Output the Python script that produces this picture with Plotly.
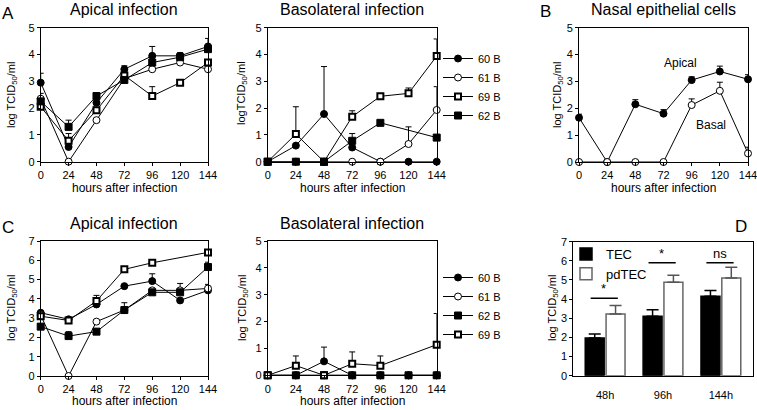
import plotly.graph_objects as go

W, H = 757, 410
FONT = "Liberation Sans, Arial, sans-serif"

hours = [0, 24, 48, 72, 96, 120, 144]

# ---- Panel A, apical infection (value, upper error-bar end)
a_ap_60B = [2.95, 0.55, 2.2, 3.45, 3.95, 3.95, 4.3]
a_ap_60B_top = [3.3, None, None, 3.58, 4.3, 4.07, 4.6]
a_ap_61B = [2.35, 0.0, 1.55, 3.1, 3.45, 3.7, 3.45]
a_ap_61B_top = [2.55, None, None, None, None, None, None]
a_ap_69B = [2.05, 0.78, 1.92, 3.22, 2.45, 2.95, 3.7]
a_ap_69B_top = [None, 1.05, None, None, 2.8, None, None]
a_ap_62B = [2.25, 1.3, 2.45, 3.05, 3.7, 3.9, 4.2]
a_ap_62B_top = [None, 1.55, None, None, None, None, None]

# ---- Panel A, basolateral infection
a_bl_60B = [0, 0.6, 1.78, 0.53, 0, 0, 0]
a_bl_60B_top = [None, None, 3.55, None, None, None, None]
a_bl_61B = [0, 0, 0, 0, 0, 0.66, 1.93]
a_bl_61B_top = [None, None, None, None, None, 1.3, 2.8]
a_bl_69B = [0, 1.03, 0, 1.68, 2.44, 2.55, 3.94]
a_bl_69B_top = [None, 2.05, None, 1.9, 2.5, 2.75, 4.58]
a_bl_62B = [0, 0, 0, 0.78, 1.45, None, 0.9]
a_bl_62B_top = [None, None, None, 1.05, None, None, None]

# ---- Panel B, nasal epithelial cells
b_apical = [1.65, 0, 2.15, 1.8, 3.05, 3.37, 3.08]
b_apical_top = [1.78, None, 2.32, 1.95, 3.17, 3.57, 3.25]
b_basal = [0, 0, 0, 0, 2.12, 2.65, 0.32]
b_basal_top = [None, None, None, None, 2.35, 2.97, 0.55]

# ---- Panel C, apical infection
c_ap_60B = [3.28, 2.94, 3.71, 4.66, 4.92, 3.92, 4.44]
c_ap_60B_top = [None, None, None, None, 5.3, None, None]
c_ap_61B = [3.16, 0, 2.82, 3.42, 4.44, 4.44, 4.54]
c_ap_61B_top = [None, None, None, None, None, 4.8, 4.75]
c_ap_62B = [2.56, 2.07, 2.3, 3.42, 4.34, 4.34, 5.65]
c_ap_62B_top = [None, 2.3, None, 3.8, None, None, 5.9]
c_ap_69B = [3.1, 2.88, 3.89, 5.53, 5.87, None, 6.41]
c_ap_69B_top = [None, None, 4.18, None, 6.0, None, None]

# ---- Panel C, basolateral infection
c_bl_60B = [0, 0, 0.52, 0, 0, 0, 0]
c_bl_60B_top = [None, None, 1.05, None, None, None, None]
c_bl_61B = [0, 0, 0, 0, 0, 0, 0]
c_bl_61B_top = [None] * 7
c_bl_62B = [0, 0, 0, 0, 0, 0, 0]
c_bl_62B_top = [None] * 7
c_bl_69B = [0, 0.36, 0, 0.43, 0.36, None, 1.14]
c_bl_69B_top = [None, 0.72, None, 0.87, 0.72, None, 2.3]

# ---- Panel D
d_times = ["48h", "96h", "144h"]
d_tec = [1.97, 3.1, 4.15]
d_tec_top = [2.18, 3.45, 4.45]
d_pdtec = [3.22, 4.88, 5.1]
d_pdtec_top = [3.67, 5.25, 5.67]
d_sig_y = [4.05, 5.9, 5.9]
d_sig_text = ["*", "*", "ns"]

STY = {
    "60 B": dict(symbol="circle", size=7, color="black", line=dict(color="black", width=1)),
    "61 B": dict(symbol="circle", size=7, color="white", line=dict(color="black", width=1)),
    "69 B": dict(symbol="square", size=6, color="white", line=dict(color="black", width=2)),
    "62 B": dict(symbol="square", size=7, color="black", line=dict(color="black", width=1)),
}


def plus(vals, tops):
    return [None if (t is None or v is None) else t - v for v, t in zip(vals, tops)]


fig = go.Figure()


def add_series(ax, name, vals, tops, marker, legend=None, showlegend=False):
    fig.add_trace(go.Scatter(
        x=hours, y=vals, name=name, mode="lines+markers",
        xaxis="x" + ("" if ax == 1 else str(ax)),
        yaxis="y" + ("" if ax == 1 else str(ax)),
        line=dict(color="black", width=1),
        marker=marker, connectgaps=True, cliponaxis=False,
        error_y=dict(type="data", symmetric=False, array=plus(vals, tops),
                     arrayminus=[0] * len(vals), color="black", thickness=1, width=3),
        showlegend=showlegend, legend=legend if legend else "legend",
        legendgroup=(legend or "") + name,
    ))


for nm, v, t in [("60 B", a_ap_60B, a_ap_60B_top), ("61 B", a_ap_61B, a_ap_61B_top),
                 ("69 B", a_ap_69B, a_ap_69B_top), ("62 B", a_ap_62B, a_ap_62B_top)]:
    add_series(1, nm, v, t, STY[nm], legend="legend", showlegend=True)
for nm, v, t in [("60 B", a_bl_60B, a_bl_60B_top), ("61 B", a_bl_61B, a_bl_61B_top),
                 ("69 B", a_bl_69B, a_bl_69B_top), ("62 B", a_bl_62B, a_bl_62B_top)]:
    add_series(2, nm, v, t, STY[nm], legend="legend")
add_series(3, "Apical", b_apical, b_apical_top, STY["60 B"])
add_series(3, "Basal", b_basal, b_basal_top, STY["61 B"])
for nm, v, t in [("60 B", c_ap_60B, c_ap_60B_top), ("61 B", c_ap_61B, c_ap_61B_top),
                 ("62 B", c_ap_62B, c_ap_62B_top), ("69 B", c_ap_69B, c_ap_69B_top)]:
    add_series(4, nm, v, t, STY[nm], legend="legend2", showlegend=True)
for nm, v, t in [("60 B", c_bl_60B, c_bl_60B_top), ("61 B", c_bl_61B, c_bl_61B_top),
                 ("62 B", c_bl_62B, c_bl_62B_top), ("69 B", c_bl_69B, c_bl_69B_top)]:
    add_series(5, nm, v, t, STY[nm], legend="legend2")

idx = list(range(len(d_times)))
fig.add_trace(go.Bar(x=idx, y=d_tec, name="TEC", xaxis="x6", yaxis="y6",
                     marker=dict(color="black", line=dict(color="black", width=1.5)),
                     error_y=dict(type="data", symmetric=False, array=plus(d_tec, d_tec_top),
                                  arrayminus=[0] * 3, color="black", thickness=1.5, width=6),
                     legend="legend3", showlegend=True))
fig.add_trace(go.Bar(x=idx, y=d_pdtec, name="pdTEC", xaxis="x6", yaxis="y6",
                     marker=dict(color="white", line=dict(color="#666666", width=1.5)),
                     error_y=dict(type="data", symmetric=False, array=plus(d_pdtec, d_pdtec_top),
                                  arrayminus=[0] * 3, color="#555555", thickness=1.5, width=6),
                     legend="legend3", showlegend=True))


def dom_x(a, b):
    return [a / W, b / W]


def dom_y(top, bottom):
    return [1 - bottom / H, 1 - top / H]


base = dict(showline=True, linecolor="black", linewidth=1, mirror=True, ticks="outside",
            ticklen=3, tickwidth=1, tickcolor="black", showgrid=False, zeroline=False,
            tickfont=dict(family=FONT, size=11, color="black"), automargin=False,
            ticklabeloverflow="allow")

lay = dict(width=W, height=H, margin=dict(l=0, r=0, t=0, b=0), template="none",
           paper_bgcolor="white", plot_bgcolor="white", font=dict(family=FONT, color="black"),
           barmode="group", bargap=0.28, bargroupgap=0.09)

panels = {
    1: ((40.7, 208), (27.7, 161.7), 5),
    2: ((267.7, 436.7), (27.7, 161.7), 5),
    3: ((579, 748), (27.7, 162), 5),
    4: ((40.7, 208), (241, 376), 7),
    5: ((267.7, 436.7), (241, 375.3), 5),
}
for k, ((x0, x1), (y0, y1), ymax) in panels.items():
    sx = "" if k == 1 else str(k)
    lay["xaxis" + sx] = dict(base, domain=dom_x(x0, x1), range=[0, 144], tickvals=hours,
                             anchor="y" + sx)
    lay["yaxis" + sx] = dict(base, domain=dom_y(y0, y1), range=[0, ymax], dtick=1,
                             anchor="x" + sx)

lay["xaxis6"] = dict(base, domain=dom_x(573.3, 752.7), range=[-0.55, 2.55], tickvals=idx,
                     ticktext=d_times, ticks="", ticklabelstandoff=9, anchor="y6")
lay["yaxis6"] = dict(base, domain=dom_y(241.7, 375.7), range=[0, 7], dtick=1, anchor="x6")

leg = dict(bgcolor="rgba(0,0,0,0)", font=dict(family=FONT, size=11, color="black"),
           xanchor="left", yanchor="top", tracegroupgap=0, itemclick=False)
lay["legend"] = dict(leg, x=438 / W, y=1 - 44 / H)
lay["legend2"] = dict(leg, x=438 / W, y=1 - 263 / H)
lay["legend3"] = dict(leg, x=566 / W, y=1 - 239 / H, font=dict(family=FONT, size=13, color="black"))

fig.update_layout(**lay)

anns = []


def ann(text, px, py, size, angle=0, xanchor="center"):
    anns.append(dict(text=text, x=px / W, y=1 - py / H, xref="paper", yref="paper",
                     showarrow=False, xanchor=xanchor, yanchor="middle", textangle=angle,
                     font=dict(family=FONT, size=size, color="black")))


ylab = "log TCID<sub>50</sub>/ml"
xlab = "hours after infection"
ann("A", 8, 13, 17)
ann("B", 545, 11, 17)
ann("C", 8, 227, 17)
ann("D", 741, 226, 17)
ann("Apical infection", 124, 9, 16)
ann("Basolateral infection", 352, 9, 16)
ann("Nasal epithelial cells", 663, 9, 16)
ann("Apical infection", 124, 223, 16)
ann("Basolateral infection", 352, 223, 16)
ann(ylab, 12, 95, 11, -90)
ann("logTCID<sub>50</sub>/ml", 242, 93, 11, -90)
ann(ylab, 558, 95, 11, -90)
ann(ylab, 12, 308, 11, -90)
ann(ylab, 243, 308, 11, -90)
ann(ylab, 553, 308, 11, -90)
ann(xlab, 124, 188, 12)
ann(xlab, 352, 188, 12)
ann(xlab, 663, 188, 12)
ann(xlab, 124, 401, 12)
ann(xlab, 352, 401, 12)
ann("Apical", 680, 63, 12)
ann("Basal", 711, 125, 12)

shapes = []
for i, (sy, st) in enumerate(zip(d_sig_y, d_sig_text)):
    shapes.append(dict(type="line", xref="x6", yref="y6", x0=i - 0.25, x1=i + 0.22,
                       y0=sy, y1=sy, line=dict(color="black", width=1.5)))
    anns.append(dict(text=st, x=i - 0.02, y=sy, xref="x6", yref="y6", showarrow=False,
                     yanchor="bottom", yshift=0,
                     font=dict(family=FONT, size=13, color="black")))

fig.update_layout(annotations=anns, shapes=shapes)
fig.write_html("out.html", config={"displayModeBar": False},
               post_script="document.body.style.margin='0';document.body.style.padding='0';")
